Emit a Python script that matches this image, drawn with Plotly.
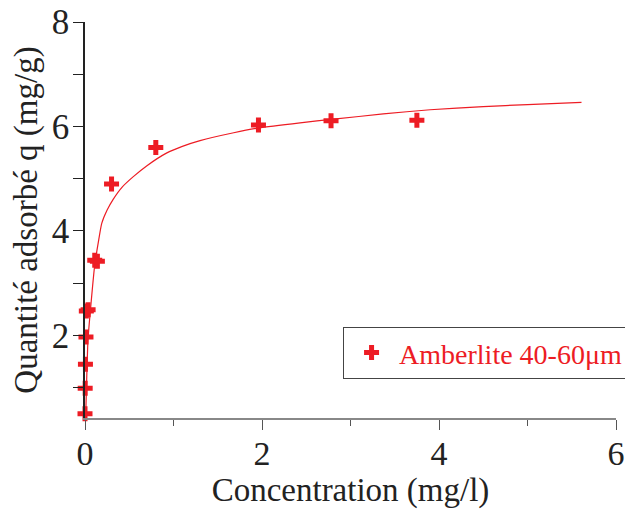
import plotly.graph_objects as go

# Measured data points (Amberlite 40-60 µm)
conc = [0.0, 0.002, 0.005, 0.011, 0.015, 0.035, 0.11, 0.14, 0.30, 0.80, 1.96, 2.78, 3.75]
q_ads = [0.50, 0.99, 1.45, 1.97, 2.47, 2.49, 3.44, 3.42, 4.90, 5.60, 6.03, 6.11, 6.12]

# Fitted curve
fit_c = [0, 0.01, 0.034, 0.07, 0.11, 0.155, 0.19, 0.25, 0.32, 0.42, 0.546, 0.7, 0.92, 1.1,
         1.30, 1.68, 1.96, 2.43, 2.81, 3.37, 3.90, 4.5, 5.0, 5.61]
fit_q = [0, 0.6, 1.92, 2.65, 3.35, 3.83, 4.15, 4.4, 4.61, 4.84, 5.04, 5.25, 5.49, 5.62,
         5.73, 5.88, 5.97, 6.07, 6.14, 6.24, 6.32, 6.38, 6.42, 6.46]

series_name = "Amberlite 40-60\u03bcm"
x_title = "Concentration (mg/l)"
y_title = "Quantité adsorbé q (mg/g)"

RED = "#ED1C24"
FONT = "Liberation Serif"

fig = go.Figure()
fig.add_trace(go.Scatter(x=fit_c, y=fit_q, mode="lines", line=dict(color=RED, width=1.2, shape="spline", smoothing=0.6),
                         showlegend=False, hoverinfo="skip"))
fig.add_trace(go.Scatter(x=conc, y=q_ads, mode="markers", name=series_name,
                         marker=dict(symbol="cross", size=12.5, color=RED, line=dict(width=0)),
                         cliponaxis=False))

fig.update_layout(
    width=625, height=509,
    margin=dict(l=85, r=9, t=22, b=91, autoexpand=False),
    plot_bgcolor="white", paper_bgcolor="white",
    font=dict(family=FONT, size=34, color="#222"),
    showlegend=True,
    legend=dict(x=0.486, y=0.23, xanchor="left", yanchor="top",
                bordercolor="#444", borderwidth=1, bgcolor="white",
                font=dict(family=FONT, size=28, color=RED), itemwidth=45),
    xaxis=dict(range=[0, 6], dtick=2, tick0=0, showgrid=False, zeroline=False, automargin=True,
               showline=True, linecolor="#888", linewidth=1.5,
               ticks="outside", ticklen=10, tickcolor="#555", tickwidth=1,
               minor=dict(ticks="outside", ticklen=6, dtick=1, tickcolor="#555", showgrid=False),
               tickfont=dict(size=34), ticklabelstandoff=-6,
               title=dict(text=x_title, font=dict(size=33), standoff=6)),
    yaxis=dict(range=[0.42, 8.0], dtick=2, tick0=0, showgrid=False, zeroline=False, automargin=True,
               showline=True, linecolor="#222", linewidth=1.5,
               ticks="outside", ticklen=10, tickcolor="#222", tickwidth=1,
               minor=dict(ticks="outside", ticklen=10, dtick=1, tickcolor="#222", showgrid=False),
               tickfont=dict(size=35), ticklabelstandoff=-3,
               title=dict(text=y_title, font=dict(size=33), standoff=4)),
)

fig.write_html("out.html", post_script="document.body.style.margin='0';",
               config={"displayModeBar": False})
